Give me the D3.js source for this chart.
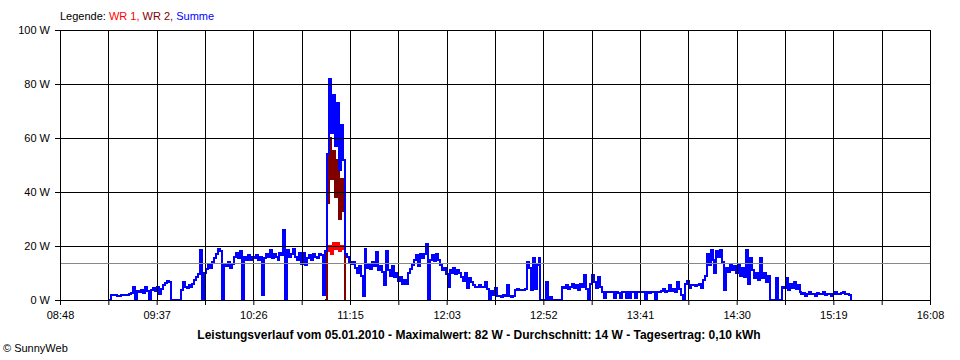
<!DOCTYPE html>
<html lang="de">
<head>
<meta charset="UTF-8">
<title>Leistungsverlauf</title>
<style>
  body { margin: 0; background: #fff; }
  svg text { font-family: "Liberation Sans", Arial, sans-serif; font-size: 11px; }
</style>
</head>
<body>
<svg id="chart"></svg>
<script src="https://d3js.org/d3.v7.min.js"></script>
<script>
// x axis labels (every second grid line)
const tickLabels = ['08:48', '09:37', '10:26', '11:15', '12:03', '12:52', '13:41', '14:30', '15:19', '16:08'];
const yTicks = [0, 20, 40, 60, 80, 100];

// Summe: one reading per minute, starting 09:13
const summeStart = '09:13';
const summe = [
  0, 1.8, 2, 2, 1.5, 1.5, 1.9, 2, 2, 2,
  2.2, 2.6, 4.7, 0.4, 3.2, 2.8, 3.6, 2.6, 5, 3.2,
  0.5, 3.8, 4.6, 3.2, 5, 2.4, 4.2, 5.5, 6.2, 7,
  6.5, 0, 0, 0, 0, 0, 3.8, 6.5, 5, 4.5,
  5.5, 4.8, 6, 7.5, 8.5, 9.5, 18.6, 0, 10, 11.5,
  13, 12, 14, 15.5, 17, 19, 18, 0, 13, 12.5,
  14, 12, 13.5, 16, 17.5, 15.5, 18, 0, 16, 15,
  16.5, 15, 16, 15.5, 16.5, 15, 16, 2, 15.5, 17,
  16, 18.5, 15.5, 17, 16, 15, 17.5, 16.5, 26, 0,
  18.6, 16, 17, 19, 16, 15, 17.5, 13.5, 17.5, 13,
  15.5, 16.5, 15, 17, 16, 15.5, 17, 16.5, 1.8, 18,
  54, 82, 62, 76, 57, 73, 48, 65, 52, 17,
  16, 14, 13.5, 14.2, 12, 10, 12.5, 9, 1.5, 19,
  12, 13.5, 11.5, 14, 12.5, 17.9, 11, 12.5, 10.5, 5.7,
  18, 11, 9, 12.5, 8.5, 10, 7, 8.5, 6, 7.5,
  5.8, 10, 11.5, 13, 15, 16.5, 12.5, 17, 15.5, 17,
  20.8, 0, 15, 16.5, 14.5, 17, 15, 13, 11, 12,
  9.5, 5, 11, 10, 12, 9.5, 11, 10, 8.5, 7,
  10, 4.6, 8, 6.5, 5.5, 5, 5, 5.5, 5, 5,
  6.8, 4, 0.5, 3.5, 2, 4.5, 1.5, 1.5, 1.2, 2,
  1.5, 5.7, 1.5, 1, 1.5, 3.8, 4, 3.8, 3.6, 3.8,
  4, 14, 12, 3.8, 15.5, 4, 13, 15.5, 0, 0,
  0, 6.8, 0, 1.2, 0, 0, 0, 0, 0, 5,
  4.5, 5.7, 4, 5, 6, 4.5, 5.5, 3.8, 6, 5,
  9.3, 4, 0.5, 6, 9.3, 6.5, 4.5, 8.5, 5, 3,
  0.6, 3, 2.8, 3, 3, 0.6, 3, 2.6, 0.6, 3,
  3, 0.8, 3, 0.6, 3, 2.8, 0.6, 3, 3, 2.8,
  3, 0.3, 3, 2.6, 3, 3, 0.3, 3, 2.8, 3.2,
  4, 3, 3.5, 5.5, 3.5, 4, 3, 6.8, 4, 2,
  0, 6, 7, 4.5, 5.4, 5.4, 5.2, 5.4, 6, 4.5,
  7.5, 8.9, 17, 13, 18.6, 15, 10, 18, 16, 18.5,
  14, 3.8, 12, 10.5, 13, 11, 12.5, 10, 13.5, 9,
  12, 8.5, 18.4, 6, 15.4, 11, 8, 10, 7.5, 15.4,
  8, 10, 6.5, 9, 0, 0, 0, 8.2, 0, 0,
  5, 4.5, 8.2, 3.8, 6, 4.5, 6.5, 4, 5.5, 3,
  2.3, 2.5, 1.5, 2.3, 3, 2.3, 2.3, 1.5, 2.5, 2.3,
  2.3, 3, 2, 2.3, 2.3, 1.5, 2.3, 3, 2.3, 2.3,
  2.5, 3, 2.3, 2.3, 2, 0
];

// the two inverters, logged only around the peak
const wrStart = '11:02';
const wr1 = [0, 18, 20, 17, 21, 19, 21, 18, 20, 19, 0];
const wr2 = [0, 36, 60, 45, 55, 38, 52, 30, 45, 33, 0];

const average = 13.6;

const toMin = s => { const [h, m] = s.split(':').map(Number); return h * 60 + m; };
const series = (start, vals) => vals.map((v, i) => ({ t: toMin(start) + i, v: v }));

const width = 960, height = 360;
const margin = { top: 30, right: 30, bottom: 60, left: 60 };
const plotW = width - margin.left - margin.right;
const plotH = height - margin.top - margin.bottom;

const svg = d3.select('#chart').attr('width', width).attr('height', height);
const g = svg.append('g').attr('transform', `translate(${margin.left},${margin.top})`);

const tStart = toMin(tickLabels[0]);
const tEnd = toMin(tickLabels[tickLabels.length - 1]);
const x = d3.scaleLinear().domain([tStart, tEnd]).range([0, plotW]);
const y = d3.scaleLinear().domain([0, 100]).range([plotH, 0]);

const gridTicks = d3.range(19).map(k => tStart + k * (tEnd - tStart) / 18);

// snapped to whole pixels so the 2px strokes stay sharp
const line = d3.line()
  .x(d => Math.round(x(d.t)))
  .y(d => Math.round(y(d.v)))
  .curve(d3.curveStepAfter);

// data first, grid is drawn over it
[[series(wrStart, wr1), '#ff0000'], [series(wrStart, wr2), '#800000'], [series(summeStart, summe), '#0000ff']]
  .forEach(([data, col]) => {
    g.append('path')
      .datum(data)
      .attr('d', line)
      .attr('fill', 'none')
      .attr('stroke', col)
      .attr('stroke-width', 2);
  });

g.append('g').selectAll('line')
  .data(gridTicks)
  .enter().append('line')
  .attr('x1', d => Math.round(x(d)) + 0.5).attr('x2', d => Math.round(x(d)) + 0.5)
  .attr('y1', 0).attr('y2', plotH)
  .attr('stroke', '#000');

g.append('g').selectAll('line')
  .data(yTicks.slice(1))
  .enter().append('line')
  .attr('x1', 0).attr('x2', plotW)
  .attr('y1', d => Math.round(y(d)) + 0.5).attr('y2', d => Math.round(y(d)) + 0.5)
  .attr('stroke', '#000');

g.append('line')
  .attr('x1', 0).attr('x2', plotW)
  .attr('y1', Math.round(y(average)) + 0.5).attr('y2', Math.round(y(average)) + 0.5)
  .attr('stroke', '#888');

const yAxis = d3.axisLeft(y)
  .tickValues(yTicks)
  .tickSize(5)
  .tickPadding(5)
  .tickFormat(d => d + ' W');

const xAxis = d3.axisBottom(x)
  .tickValues(gridTicks)
  .tickSize(5)
  .tickPadding(6)
  .tickFormat((d, i) => i % 2 === 0 ? tickLabels[i / 2] : '');

g.append('g').attr('class', 'axis').call(yAxis);
g.append('g').attr('class', 'axis').attr('transform', `translate(0,${plotH})`).call(xAxis);

svg.selectAll('.axis text').attr('fill', '#000').style('font-size', '11px');
svg.selectAll('.axis line, .axis path').attr('stroke', '#000');

// legend
const legend = svg.append('text').attr('x', 60).attr('y', 20);
legend.append('tspan').attr('fill', '#000').text('Legende: ');
legend.append('tspan').attr('fill', '#ff0000').text('WR 1, ');
legend.append('tspan').attr('fill', '#800000').text('WR 2, ');
legend.append('tspan').attr('fill', '#0000ff').text('Summe');

svg.append('text')
  .attr('x', 479).attr('y', 339)
  .attr('text-anchor', 'middle')
  .style('font-weight', 'bold')
  .style('font-size', '12px')
  .text('Leistungsverlauf vom 05.01.2010 - Maximalwert: 82 W - Durchschnitt: 14 W - Tagesertrag: 0,10 kWh');

svg.append('text')
  .attr('x', 3).attr('y', 352)
  .text('© SunnyWeb');
</script>
</body>
</html>
